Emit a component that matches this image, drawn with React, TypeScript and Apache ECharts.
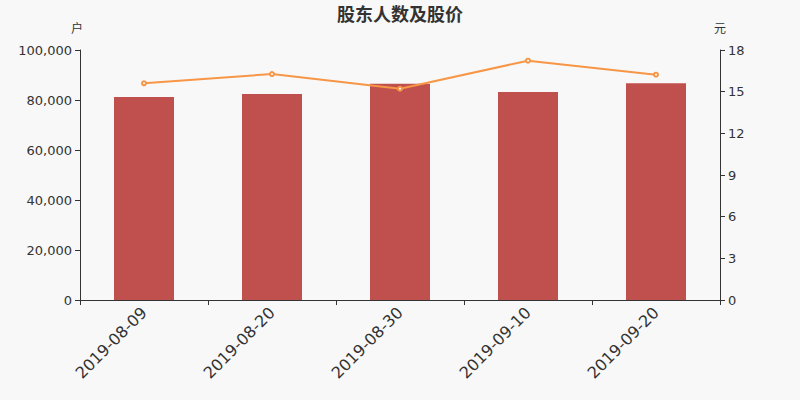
import React, { useEffect, useRef } from 'react';
import * as echarts from 'echarts';

const dates = ['2019-08-09', '2019-08-20', '2019-08-30', '2019-09-10', '2019-09-20'];
const holders = [81200, 82400, 86500, 83200, 86700];
const prices = [15.6, 16.27, 15.21, 17.23, 16.22];

const App: React.FC = () => {
    const chartRef = useRef<HTMLDivElement>(null);

    useEffect(() => {
        if (!chartRef.current) return;
        const chart = echarts.init(chartRef.current, undefined, { renderer: 'svg' });

        const axisColor = '#333';
        const option: echarts.EChartsOption = {
            animation: false,
            backgroundColor: '#f8f8f8',
            textStyle: { fontFamily: 'DejaVu Sans, Noto Sans CJK SC, sans-serif' },
            title: {
                text: '股东人数及股价',
                left: 'center',
                top: 0,
                textStyle: { fontSize: 18, fontWeight: 'bold', color: '#333' },
            },
            grid: { left: 80, right: 80, top: 50, bottom: 100 },
            xAxis: {
                type: 'category',
                data: dates,
                axisLine: { lineStyle: { color: axisColor } },
                axisTick: { show: true, alignWithLabel: false },
                axisLabel: { rotate: 45, fontSize: 16, color: '#333', margin: 10 },
            },
            yAxis: [
                {
                    type: 'value',
                    name: '户',
                    min: 0,
                    max: 100000,
                    interval: 20000,
                    nameTextStyle: { color: '#333', fontSize: 12, padding: [0, 0, 0, -6] },
                    axisLine: { show: true, lineStyle: { color: axisColor } },
                    axisTick: { show: true },
                    splitLine: { show: false },
                    axisLabel: {
                        color: '#333',
                        fontSize: 13,
                        formatter: (v: number) => v.toLocaleString('en-US'),
                    },
                },
                {
                    type: 'value',
                    name: '元',
                    min: 0,
                    max: 18,
                    interval: 3,
                    nameTextStyle: { color: '#333', fontSize: 12 },
                    axisLine: { show: true, lineStyle: { color: axisColor } },
                    axisTick: { show: true },
                    splitLine: { show: false },
                    axisLabel: { color: '#333', fontSize: 13 },
                },
            ],
            series: [
                {
                    name: '股东人数',
                    type: 'bar',
                    data: holders,
                    barWidth: 60,
                    itemStyle: { color: '#c0504d' },
                },
                {
                    name: '股价',
                    type: 'line',
                    yAxisIndex: 1,
                    data: prices,
                    symbol: 'emptyCircle',
                    symbolSize: 4,
                    lineStyle: { color: '#f79646', width: 2 },
                    itemStyle: { color: '#f79646' },
                },
            ],
        };

        chart.setOption(option);
        return () => chart.dispose();
    }, []);

    return (
        <div
            ref={chartRef}
            style={{ position: 'absolute', left: 0, top: 0, width: 800, height: 400 }}
        />
    );
};

export default App;
